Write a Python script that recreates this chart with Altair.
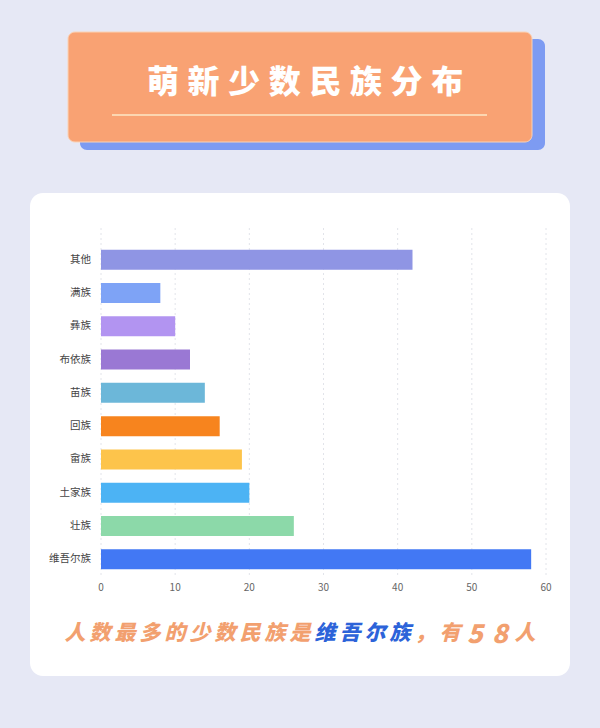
import altair as alt
import pandas as pd

# ---- data ----
categories = ["其他", "满族", "彝族", "布依族", "苗族", "回族", "畲族", "土家族", "壮族", "维吾尔族"]
values = [42, 8, 10, 12, 14, 16, 19, 20, 26, 58]
bar_colors = ["#8f95e4", "#7ea3f6", "#b294f1", "#9a78d4", "#6cb7d9", "#f7841e",
              "#fdc44b", "#4cb3f4", "#8cd9a9", "#4278f4"]
x_ticks = [0, 10, 20, 30, 40, 50, 60]
title_text = "萌新少数民族分布"
caption_parts = [("人数最多的少数民族是", "#f2a06f"), ("维吾尔族", "#2c63d9"), ("，有58人", "#f2a06f")]

FONT = "Noto Sans CJK SC"

bars_df = pd.DataFrame({"民族": categories, "人数": values})
ticks_df = pd.DataFrame({"t": x_ticks})

# decorative text tables
title_df = pd.DataFrame({"ch": list(title_text),
                         "px": [163 + 40.6 * i for i in range(len(title_text))]})
cap_chars, cap_cols = [], []
for s, c in caption_parts:
    for ch in s:
        cap_chars.append(ch)
        cap_cols.append(c)
caption_df = pd.DataFrame({"ch": cap_chars, "col": cap_cols,
                           "px": [75 + 25 * i for i in range(len(cap_chars))]})
caption_df["digit"] = caption_df["ch"].str.isdigit()
cap_text_df = caption_df[~caption_df["digit"]]
cap_digit_df = caption_df[caption_df["digit"]]

one = pd.DataFrame({"a": [0]})

xscale = alt.Scale(domain=[0, 60], range=[101, 546], nice=False, zero=True)
yscale = alt.Scale(domain=categories, range=[243, 576], paddingInner=0.4, paddingOuter=0.2)

# ---- decorations ----
shadow = alt.Chart(one).mark_rect(color="#7d9bf2", cornerRadius=7).encode(
    x=alt.value(80), x2=alt.value(545), y=alt.value(39), y2=alt.value(150))
header = alt.Chart(one).mark_rect(color="#f9a273", cornerRadius=7,
                                  stroke="#fbd3b6", strokeWidth=1).encode(
    x=alt.value(68), x2=alt.value(532), y=alt.value(32), y2=alt.value(142))
underline = alt.Chart(one).mark_rule(color="#fde7c6", strokeWidth=1.5).encode(
    x=alt.value(112), x2=alt.value(487), y=alt.value(115))
title = alt.Chart(title_df).mark_text(font=FONT, fontSize=32, fontWeight=900,
                                      color="#ffffff", align="center",
                                      baseline="middle").encode(
    x=alt.X("px:Q", scale=None), y=alt.value(83), text="ch:N")
card = alt.Chart(one).mark_rect(color="#ffffff", cornerRadius=13).encode(
    x=alt.value(30), x2=alt.value(570), y=alt.value(193), y2=alt.value(676))

# ---- chart ----
grid = alt.Chart(ticks_df).mark_rule(color="#e2e4ea", strokeWidth=1,
                                     strokeDash=[2, 3]).encode(
    x=alt.X("t:Q", scale=xscale, axis=None), y=alt.value(228), y2=alt.value(578))
bars = alt.Chart(bars_df).mark_bar().encode(
    x=alt.X("人数:Q", scale=xscale, axis=None),
    y=alt.Y("民族:N", scale=yscale, axis=None, sort=categories),
    color=alt.Color("民族:N", scale=alt.Scale(domain=categories, range=bar_colors),
                    legend=None))
ylabels = alt.Chart(bars_df).mark_text(font=FONT, fontSize=10.5, color="#444444",
                                       align="right", baseline="middle").encode(
    x=alt.value(91),
    y=alt.Y("民族:N", scale=yscale, axis=None, sort=categories),
    text="民族:N")
xlabels = alt.Chart(ticks_df).mark_text(font=FONT, fontSize=10, color="#666666",
                                        align="center", baseline="middle").encode(
    x=alt.X("t:Q", scale=xscale, axis=None), y=alt.value(588), text="t:Q")

caption = alt.Chart(cap_text_df).mark_text(font=FONT, fontSize=21, fontWeight=900,
                                           fontStyle="italic", align="center",
                                           baseline="middle").encode(
    x=alt.X("px:Q", scale=None), y=alt.value(634), text="ch:N",
    color=alt.Color("col:N", scale=None))
caption_digits = alt.Chart(cap_digit_df).mark_text(font=FONT, fontSize=26, fontWeight=900,
                                                   fontStyle="italic", align="center",
                                                   baseline="middle").encode(
    x=alt.X("px:Q", scale=None), y=alt.value(635), text="ch:N",
    color=alt.Color("col:N", scale=None))

chart = alt.layer(shadow, header, underline, title, card, grid, bars, ylabels,
                  xlabels, caption, caption_digits).resolve_scale(color="independent").properties(
    width=600, height=728, background="#e6e8f5", padding=0,
    autosize=alt.AutoSizeParams(type="none")
).configure_view(stroke=None)

chart.save("out.html", embed_options={"renderer": "svg", "actions": False})
